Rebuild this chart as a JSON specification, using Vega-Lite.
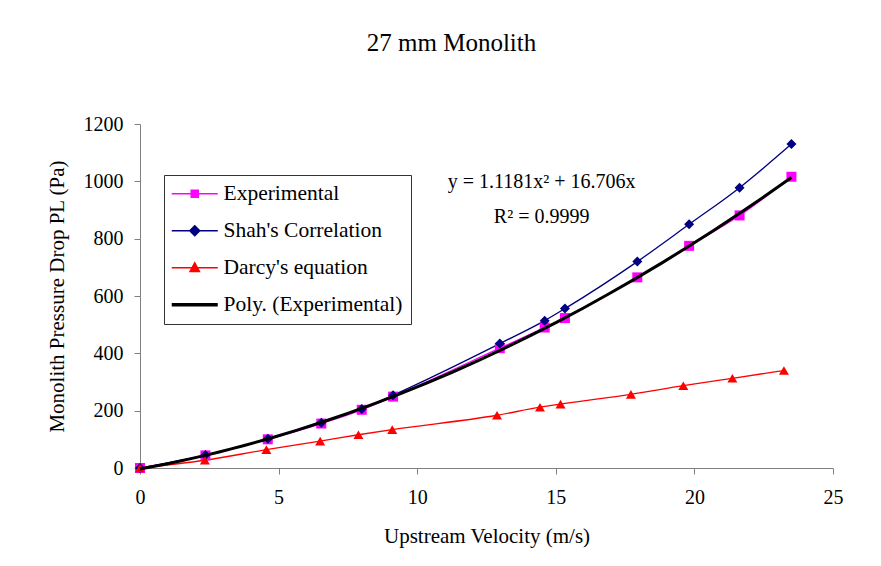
{
  "$schema": "https://vega.github.io/schema/vega-lite/v6.json",
  "width": 693,
  "height": 344,
  "autosize": "none",
  "padding": {"left": 140, "top": 124, "right": 48, "bottom": 98},
  "background": "white",
  "config": {
    "view": {"stroke": null},
    "font": "Liberation Serif",
    "axis": {"labelFont": "Liberation Serif", "titleFont": "Liberation Serif"},
    "legend": {"labelFont": "Liberation Serif"}
  },
  "title": {
    "text": "27 mm Monolith",
    "font": "Liberation Serif",
    "fontSize": 25,
    "fontWeight": "normal",
    "color": "black",
    "anchor": "middle",
    "dx": -35,
    "offset": 38,
    "baseline": "alphabetic"
  },
  "data": {
    "values": [
      {"series": "Experimental", "V": 0, "P": 0},
      {"series": "Experimental", "V": 2.36, "P": 44},
      {"series": "Experimental", "V": 4.61, "P": 100},
      {"series": "Experimental", "V": 6.54, "P": 155},
      {"series": "Experimental", "V": 8.0, "P": 203},
      {"series": "Experimental", "V": 9.13, "P": 249},
      {"series": "Experimental", "V": 12.98, "P": 418},
      {"series": "Experimental", "V": 14.6, "P": 490},
      {"series": "Experimental", "V": 15.33, "P": 523},
      {"series": "Experimental", "V": 17.94, "P": 665},
      {"series": "Experimental", "V": 19.81, "P": 775},
      {"series": "Experimental", "V": 21.63, "P": 881},
      {"series": "Experimental", "V": 23.5, "P": 1016},
      {"series": "Shah's Correlation", "V": 0, "P": 0},
      {"series": "Shah's Correlation", "V": 2.36, "P": 45},
      {"series": "Shah's Correlation", "V": 4.61, "P": 102},
      {"series": "Shah's Correlation", "V": 6.54, "P": 158},
      {"series": "Shah's Correlation", "V": 8.0, "P": 206},
      {"series": "Shah's Correlation", "V": 9.13, "P": 254},
      {"series": "Shah's Correlation", "V": 12.98, "P": 434},
      {"series": "Shah's Correlation", "V": 14.6, "P": 514},
      {"series": "Shah's Correlation", "V": 15.33, "P": 556},
      {"series": "Shah's Correlation", "V": 17.94, "P": 720},
      {"series": "Shah's Correlation", "V": 19.81, "P": 850},
      {"series": "Shah's Correlation", "V": 21.63, "P": 978},
      {"series": "Shah's Correlation", "V": 23.5, "P": 1130},
      {"series": "Darcy's equation", "V": 0, "P": 0},
      {"series": "Darcy's equation", "V": 2.34, "P": 27},
      {"series": "Darcy's equation", "V": 4.56, "P": 64},
      {"series": "Darcy's equation", "V": 6.5, "P": 94},
      {"series": "Darcy's equation", "V": 7.88, "P": 116},
      {"series": "Darcy's equation", "V": 9.1, "P": 134},
      {"series": "Darcy's equation", "V": 12.88, "P": 184},
      {"series": "Darcy's equation", "V": 14.43, "P": 212},
      {"series": "Darcy's equation", "V": 15.17, "P": 223},
      {"series": "Darcy's equation", "V": 17.71, "P": 257},
      {"series": "Darcy's equation", "V": 19.6, "P": 287},
      {"series": "Darcy's equation", "V": 21.37, "P": 313},
      {"series": "Darcy's equation", "V": 23.23, "P": 340}
    ]
  },
  "layer": [
    {
      "mark": {"type": "line", "interpolate": "monotone", "strokeWidth": 1.3},
      "encoding": {
        "x": {
          "field": "V",
          "type": "quantitative",
          "scale": {"domain": [0, 25], "nice": false, "zero": true},
          "axis": {
            "values": [0, 5, 10, 15, 20, 25],
            "format": "d",
            "grid": false,
            "title": "Upstream Velocity (m/s)",
            "titleFont": "Liberation Serif",
            "titleFontSize": 21,
            "titleFontWeight": "normal",
            "titleColor": "black",
            "titlePadding": 18,
            "labelFont": "Liberation Serif",
            "labelFontSize": 20,
            "labelColor": "black",
            "labelPadding": 13,
            "labelFlush": false,
            "domainColor": "#808080",
            "tickColor": "#808080",
            "tickSize": 6
          }
        },
        "y": {
          "field": "P",
          "type": "quantitative",
          "scale": {"domain": [0, 1200], "nice": false},
          "axis": {
            "values": [0, 200, 400, 600, 800, 1000, 1200],
            "format": "d",
            "grid": false,
            "title": "Monolith Pressure Drop PL (Pa)",
            "titleFont": "Liberation Serif",
            "titleFontSize": 21,
            "titleFontWeight": "normal",
            "titleColor": "black",
            "titlePadding": 16,
            "labelFont": "Liberation Serif",
            "labelFontSize": 20,
            "labelColor": "black",
            "labelPadding": 11,
            "labelFlush": false,
            "domainColor": "#808080",
            "tickColor": "#808080",
            "tickSize": 6
          }
        },
        "color": {
          "field": "series",
          "type": "nominal",
          "scale": {
            "domain": ["Experimental", "Shah's Correlation", "Darcy's equation", "Poly. (Experimental)"],
            "range": ["#FF00FF", "#000080", "#FF0000", "#000000"]
          },
          "legend": {
            "orient": "none",
            "legendX": 24,
            "legendY": 51,
            "title": null,
            "strokeColor": "#333333",
            "fillColor": "white",
            "padding": 8,
            "labelFont": "Liberation Serif",
            "labelFontSize": 21.5,
            "labelColor": "black",
            "labelLimit": 400,
            "symbolSize": 676,
            "symbolOffset": 12,
            "labelOffset": 18,
            "rowPadding": 14,
            "symbolStrokeWidth": 1.5,
            "encode": {
              "symbols": {
                "update": {
                  "shape": {"signal": "datum.index === 0 ? 'M-1.77,0H1.77M-0.27,-0.27H0.27V0.27H-0.27Z' : datum.index === 1 ? 'M-1.77,0H1.77M0,-0.38L0.38,0L0,0.38L-0.38,0Z' : datum.index === 2 ? 'M-1.77,0H1.77M0,-0.38L0.36,0.28H-0.36Z' : 'M-1.77,0H1.77'"},
                  "fill": {"scale": "color", "field": "value"},
                  "stroke": {"scale": "color", "field": "value"},
                  "fillOpacity": {"value": 1},
                  "strokeOpacity": {"value": 1},
                  "strokeWidth": {"signal": "datum.index === 3 ? 3.5 : 1.5"}
                }
              }
            }
          }
        }
      }
    },
    {
      "mark": {"type": "point", "filled": true, "opacity": 1, "size": 100},
      "encoding": {
        "x": {"field": "V", "type": "quantitative"},
        "y": {"field": "P", "type": "quantitative"},
        "color": {"field": "series", "type": "nominal"},
        "shape": {
          "field": "series",
          "type": "nominal",
          "scale": {
            "domain": ["Experimental", "Shah's Correlation", "Darcy's equation"],
            "range": ["square", "diamond", "triangle-up"]
          },
          "legend": null
        }
      }
    },
    {
      "transform": [
        {"filter": "datum.series === 'Experimental'"},
        {"regression": "P", "on": "V", "method": "poly", "order": 2, "extent": [0, 23.5]}
      ],
      "mark": {"type": "line", "strokeWidth": 3},
      "encoding": {
        "x": {"field": "V", "type": "quantitative"},
        "y": {"field": "P", "type": "quantitative"},
        "color": {"datum": "Poly. (Experimental)", "type": "nominal"}
      }
    },
    {
      "data": {"values": [{"equation": "y = 1.1181x² + 16.706x", "r2": "R² = 0.9999"}]},
      "mark": {"type": "text", "font": "Liberation Serif", "fontSize": 20, "align": "center", "baseline": "alphabetic", "color": "black"},
      "encoding": {
        "x": {"datum": 14.49, "type": "quantitative"},
        "y": {"datum": 976, "type": "quantitative"},
        "text": {"field": "equation", "type": "nominal"}
      }
    },
    {
      "data": {"values": [{"equation": "y = 1.1181x² + 16.706x", "r2": "R² = 0.9999"}]},
      "mark": {"type": "text", "font": "Liberation Serif", "fontSize": 20, "align": "center", "baseline": "alphabetic", "color": "black"},
      "encoding": {
        "x": {"datum": 14.49, "type": "quantitative"},
        "y": {"datum": 854, "type": "quantitative"},
        "text": {"field": "r2", "type": "nominal"}
      }
    }
  ]
}
